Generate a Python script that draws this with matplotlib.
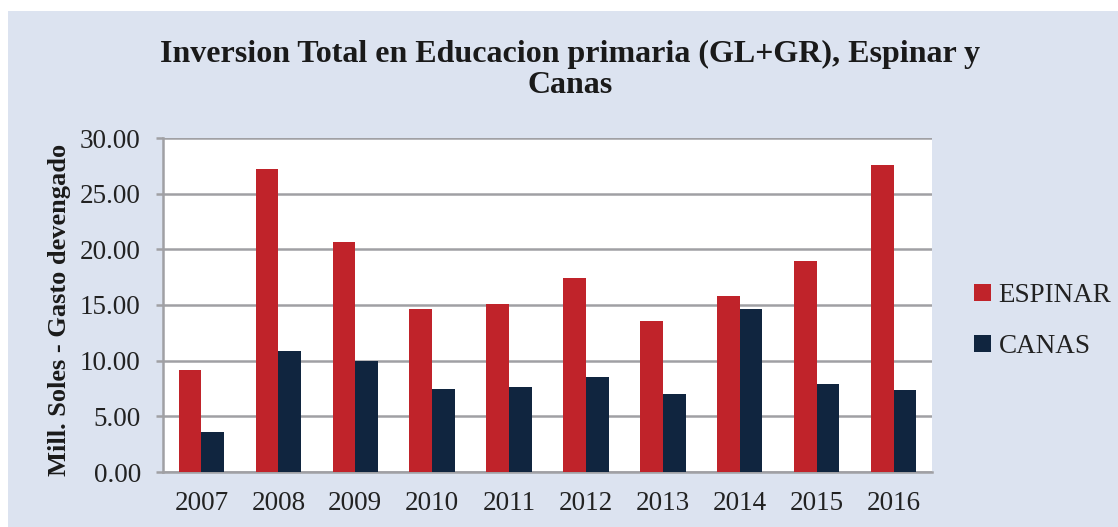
import numpy as np
import matplotlib.pyplot as plt
from matplotlib.patches import Rectangle

years = ['2007', '2008', '2009', '2010', '2011', '2012', '2013', '2014', '2015', '2016']
espinar = [9.2, 27.2, 20.7, 14.6, 15.1, 17.4, 13.6, 15.8, 18.95, 27.6]
canas = [3.6, 10.9, 10.0, 7.5, 7.6, 8.55, 7.0, 14.6, 7.9, 7.4]

bg = '#dce3f0'
red = '#c0232a'
navy = '#10253f'
grid = '#a0a0a4'

plt.rcParams['font.family'] = ['Liberation Serif', 'DejaVu Serif']

fig = plt.figure(figsize=(11.18, 5.27), dpi=100)
fig.patch.set_facecolor('white')
fig.patches.append(Rectangle((8 / 1118, 0), 1, 516 / 527, transform=fig.transFigure,
                             facecolor=bg, edgecolor='none', zorder=-10))

ax = fig.add_axes([163 / 1118, 55 / 527, 769 / 1118, 334 / 527])
ax.set_facecolor('white')

x = np.arange(len(years))
w = 0.295
ax.bar(x - w / 2, espinar, w, color=red, label='ESPINAR', zorder=3)
ax.bar(x + w / 2, canas, w, color=navy, label='CANAS', zorder=3)

ax.set_xlim(-0.5, len(years) - 0.5)
ax.set_ylim(0, 30)
ax.set_yticks(np.arange(0, 30.1, 5))
ax.set_yticklabels([f'{v:.2f}' for v in np.arange(0, 30.1, 5)])
ax.set_xticks(x)
ax.set_xticklabels(years)
ax.yaxis.grid(True, color=grid, linewidth=1.8, zorder=0)
ax.set_axisbelow(True)

for s in ['top', 'right']:
    ax.spines[s].set_visible(False)
for s in ['left', 'bottom']:
    ax.spines[s].set_color(grid)
    ax.spines[s].set_linewidth(1.8)

ax.tick_params(axis='y', length=5, width=1.8, color=grid, pad=11, labelsize=19.5, labelcolor='#222222')
ax.tick_params(axis='x', length=0, pad=14, labelsize=19.5, labelcolor='#222222')

ax.set_ylabel('Mill. Soles - Gasto devengado', fontsize=19, fontweight='bold', color='#1a1a1a')
ax.yaxis.set_label_coords(-92 / 769, 0.485)

fig.text(570 / 1118, 1 - 70 / 527, 'Inversion Total en Educacion primaria (GL+GR), Espinar y\nCanas',
         ha='center', va='center', fontsize=23, fontweight='bold', color='#1a1a1a', linespacing=1.1)

leg = fig.legend(loc='center left', bbox_to_anchor=(950 / 1118, 1 - 321 / 527), frameon=False,
                 fontsize=19.5, handlelength=0.6, handleheight=0.6, handletextpad=0.3, labelspacing=0.95)
for t in leg.get_texts():
    t.set_color('#222222')

fig.savefig('out.png', dpi=100, facecolor=fig.get_facecolor())
